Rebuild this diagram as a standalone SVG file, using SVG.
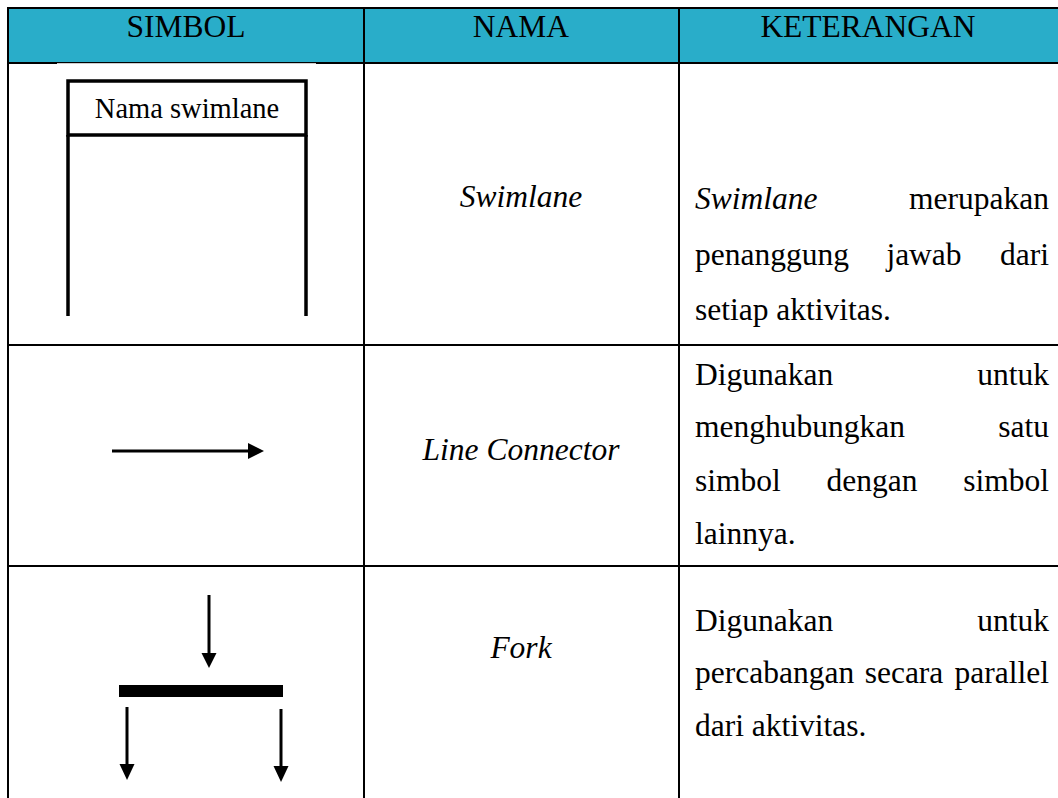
<svg xmlns="http://www.w3.org/2000/svg" width="1058" height="798" viewBox="0 0 1058 798">
<rect width="1058" height="798" fill="#fff"/>
<g id="table">
<rect x="8" y="8" width="1050" height="55" fill="#29adc9"/>
<g stroke="#000" stroke-width="2" fill="none">
<line x1="7" y1="8" x2="1058" y2="8"/>
<line x1="8" y1="7" x2="8" y2="798"/>
<line x1="364" y1="8" x2="364" y2="798"/>
<line x1="679" y1="8" x2="679" y2="798"/>
<line x1="8" y1="63" x2="1058" y2="63"/>
<line x1="8" y1="345" x2="1058" y2="345"/>
<line x1="8" y1="566" x2="1058" y2="566"/>
</g>
<text font-family="Liberation Serif" font-size="31.5" text-anchor="middle" x="186" y="37">SIMBOL</text>
<text font-family="Liberation Serif" font-size="31.5" text-anchor="middle" x="521" y="37">NAMA</text>
<text font-family="Liberation Serif" font-size="31.5" text-anchor="middle" x="868" y="37">KETERANGAN</text>
</g>
<g id="swimlane-symbol">
<rect x="57" y="63.2" width="259" height="3" fill="#fff"/>
<g stroke="#000" stroke-width="3.5" fill="none">
<rect x="68" y="81" width="238" height="54"/>
<line x1="68" y1="135" x2="68" y2="316"/>
<line x1="306" y1="135" x2="306" y2="316"/>
</g>
<text font-family="Liberation Serif" font-size="28.5" text-anchor="middle" x="187" y="118">Nama swimlane</text>
</g>
<g id="swimlane-name"><text font-family="Liberation Serif" font-size="31.5" font-style="italic" text-anchor="middle" x="521" y="207">Swimlane</text></g>
<g id="swimlane-desc">
<text font-family="Liberation Serif" font-size="31.5" font-style="italic" x="695" y="209">Swimlane</text>
<text font-family="Liberation Serif" font-size="31.5" text-anchor="end" x="1049" y="209">merupakan</text>
<text font-family="Liberation Serif" font-size="31.5" x="695" y="265">penanggung</text>
<text font-family="Liberation Serif" font-size="31.5" text-anchor="middle" x="924" y="265">jawab</text>
<text font-family="Liberation Serif" font-size="31.5" text-anchor="end" x="1049" y="265">dari</text>
<text font-family="Liberation Serif" font-size="31.5" x="695" y="320">setiap aktivitas.</text>
</g>
<g id="connector-symbol">
<line x1="112" y1="451" x2="250" y2="451" stroke="#000" stroke-width="3"/>
<polygon points="248,443 264,451 248,459" fill="#000"/>
</g>
<g id="connector-name"><text font-family="Liberation Serif" font-size="31.5" font-style="italic" text-anchor="middle" x="521" y="460">Line Connector</text></g>
<g id="connector-desc">
<text font-family="Liberation Serif" font-size="31.5" x="695" y="385">Digunakan</text>
<text font-family="Liberation Serif" font-size="31.5" text-anchor="end" x="1049" y="385">untuk</text>
<text font-family="Liberation Serif" font-size="31.5" x="695" y="437">menghubungkan</text>
<text font-family="Liberation Serif" font-size="31.5" text-anchor="end" x="1049" y="437">satu</text>
<text font-family="Liberation Serif" font-size="31.5" x="695" y="491">simbol</text>
<text font-family="Liberation Serif" font-size="31.5" text-anchor="middle" x="872" y="491">dengan</text>
<text font-family="Liberation Serif" font-size="31.5" text-anchor="end" x="1049" y="491">simbol</text>
<text font-family="Liberation Serif" font-size="31.5" x="695" y="544">lainnya.</text>
</g>
<g id="fork-symbol">
<g stroke="#000" stroke-width="3">
<line x1="209" y1="595" x2="209" y2="656"/>
<line x1="127" y1="707" x2="127" y2="767"/>
<line x1="281" y1="709" x2="281" y2="769"/>
</g>
<polygon points="201.5,653 216.5,653 209,668" fill="#000"/>
<rect x="119" y="685" width="164" height="12" fill="#000"/>
<polygon points="119.5,764 134.5,764 127,780" fill="#000"/>
<polygon points="273.5,766 288.5,766 281,782" fill="#000"/>
</g>
<g id="fork-name"><text font-family="Liberation Serif" font-size="31.5" font-style="italic" text-anchor="middle" x="521" y="658">Fork</text></g>
<g id="fork-desc">
<text font-family="Liberation Serif" font-size="31.5" x="695" y="631">Digunakan</text>
<text font-family="Liberation Serif" font-size="31.5" text-anchor="end" x="1049" y="631">untuk</text>
<text font-family="Liberation Serif" font-size="31.5" x="695" y="683">percabangan</text>
<text font-family="Liberation Serif" font-size="31.5" text-anchor="middle" x="904" y="683">secara</text>
<text font-family="Liberation Serif" font-size="31.5" text-anchor="end" x="1049" y="683">parallel</text>
<text font-family="Liberation Serif" font-size="31.5" x="695" y="736">dari aktivitas.</text>
</g>
</svg>
